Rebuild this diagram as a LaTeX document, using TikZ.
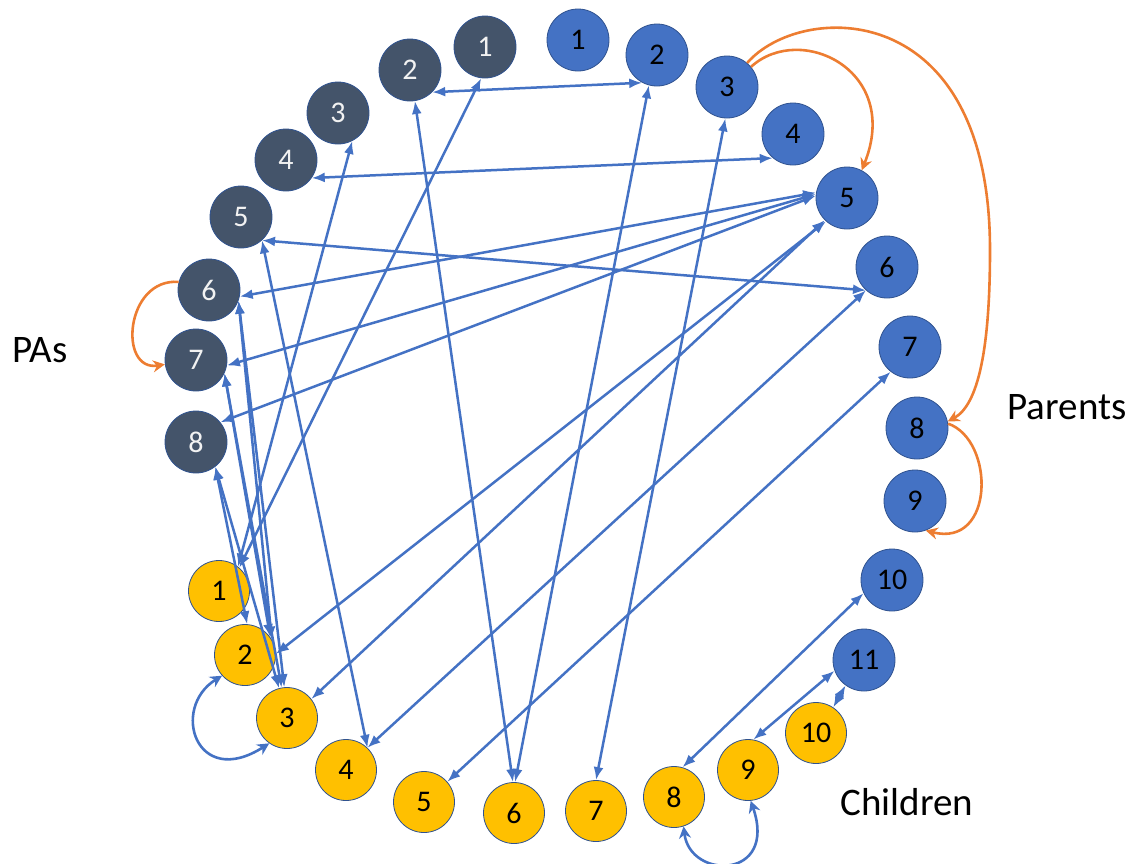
\documentclass[tikz,border=0pt]{standalone}
\usepackage{fontspec}
\setmainfont{Carlito}
\usetikzlibrary{arrows.meta}
\definecolor{padark}{HTML}{44546A}
\definecolor{parblue}{HTML}{4472C4}
\definecolor{chyellow}{HTML}{FFC000}
\definecolor{rimblue}{HTML}{2F528F}
\definecolor{curveorange}{HTML}{ED7D31}
\definecolor{pawhite}{HTML}{F2F2F2}
\tikzset{
  pa/.style={circle,draw=rimblue,line width=0.8pt,fill=padark,minimum size=62pt,inner sep=0pt,text=pawhite,font=\fontsize{30}{30}\selectfont},
  par/.style={circle,draw=rimblue,line width=0.8pt,fill=parblue,minimum size=62pt,inner sep=0pt,text=black,font=\fontsize{30}{30}\selectfont},
  ch/.style={circle,draw=rimblue,line width=0.8pt,fill=chyellow,minimum size=61pt,inner sep=0pt,text=black,font=\fontsize{30}{30}\selectfont},
  link/.style={draw=parblue,line width=2.5pt,{Latex[length=13pt,width=10pt]}-{Latex[length=13pt,width=10pt]}},
  ocurve/.style={draw=curveorange,line width=2.6pt,-{Stealth[length=12pt,width=12pt,inset=4pt]}},
  bcurve/.style={draw=parblue,line width=2.6pt,{Stealth[length=12pt,width=12pt,inset=4pt]}-{Stealth[length=12pt,width=12pt,inset=4pt]}},
  grp/.style={font=\fontsize{39}{39}\selectfont,text=black}
}
\begin{document}
\begin{tikzpicture}[x=1pt,y=-1pt]
\useasboundingbox (0,0) rectangle (1143,863);
% PAs
\node[pa] (pa1) at (485,47) {1};
\node[pa] (pa2) at (410,70) {2};
\node[pa] (pa3) at (338,113) {3};
\node[pa] (pa4) at (286,160) {4};
\node[pa] (pa5) at (241,217) {5};
\node[pa] (pa6) at (209,290) {6};
\node[pa] (pa7) at (196,360) {7};
\node[pa] (pa8) at (196,442) {8};
% Parents
\node[par] (p1) at (578,40) {1};
\node[par] (p2) at (657,55) {2};
\node[par] (p3) at (727,87) {3};
\node[par] (p4) at (793,134) {4};
\node[par] (p5) at (847,198) {5};
\node[par] (p6) at (887,267) {6};
\node[par] (p7) at (910,347) {7};
\node[par] (p8) at (917,428) {8};
\node[par] (p9) at (915,501) {9};
\node[par] (p10) at (892,580) {10};
\node[par] (p11) at (864,660) {11};
% Children
\node[ch] (c1) at (219,591) {1};
\node[ch] (c2) at (245,655) {2};
\node[ch] (c3) at (287,718) {3};
\node[ch] (c4) at (346,770) {4};
\node[ch] (c5) at (424,802) {5};
\node[ch] (c6) at (514,813) {6};
\node[ch] (c7) at (596,811) {7};
\node[ch] (c8) at (674,797) {8};
\node[ch] (c9) at (748,770) {9};
\node[ch] (c10) at (816,733) {10};
% group labels
\node[grp] (lpa) at (40,350) {PAs};
\node[grp] (lpar) at (1067,407) {Parents};
\node[grp] (lch) at (907,802) {Children};
% blue links
\draw[link] (pa2.-45) -- (p2.242);
\draw[link] (pa4.-35) -- (p4.230);
\draw[link] (pa5.-48) -- (p6.228);
\draw[link] (pa5.-48) -- (c4.46);
\draw[link] (p6.228) -- (c4.46);
\draw[link] (pa1.263) -- (c1.49);
\draw[link] (pa3.297) -- (c1.52);
\draw[link] (pa2.-81) -- (c6.92);
\draw[link] (p2.255) -- (c6.88);
\draw[link] (p3.267) -- (c7.90);
\draw[link] (p5.170) -- (pa6.-12);
\draw[link] (p5.173) -- (pa7.-10);
\draw[link] (p5.176) -- (pa8.39);
\draw[link] (p5.228) -- (c2.2);
\draw[link] (p5.225) -- (c3.38);
\draw[link] (pa6.-20) -- (c2.30);
\draw[link] (pa6.-20) -- (c3.95);
\draw[link] (pa7.-25) -- (c2.35);
\draw[link] (pa7.-25) -- (c3.100);
\draw[link] (pa8.-52) -- (c2.86);
\draw[link] (pa8.-52) -- (c3.105);
\draw[link] (p7.232) -- (c5.41);
\draw[link] (p10.205) -- (c8.74);
\draw[link] (p11.200) -- (c9.80);
\draw[link] (p11.234) -- (c10.56);
% orange curves
\draw[ocurve] (pa6.165) .. controls (125,278) and (118,372) .. (pa7.188);
\draw[ocurve] (p3.40) .. controls (800,22) and (902,70) .. (p5.62);
\draw[ocurve] (p3.50) .. controls (800,2) and (990,-5) .. (990,250) .. controls (990,350) and (978,405) .. (p8.12);
\draw[ocurve] (p8.8) .. controls (995,440) and (995,548) .. (p9.-70);
% blue self curves
\draw[bcurve] (c2.222) .. controls (170,708) and (196,790) .. (c3.235);
\draw[bcurve] (c8.-72) .. controls (690,880) and (778,880) .. (c9.-85);
\end{tikzpicture}
\end{document}
